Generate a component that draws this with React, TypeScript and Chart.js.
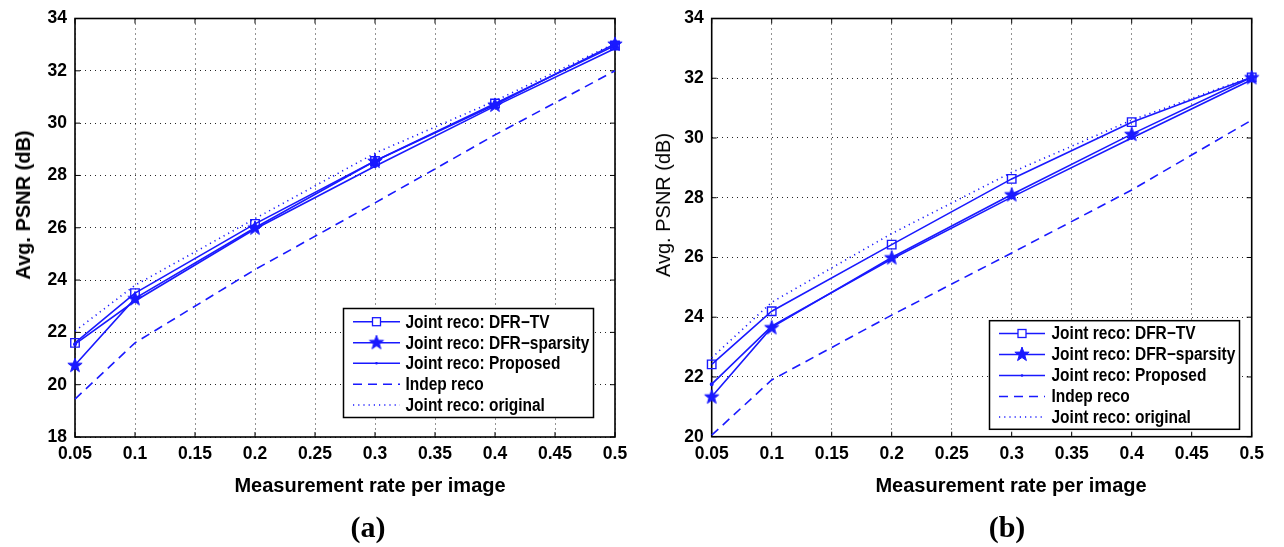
import React, { useEffect, useRef } from 'react';
import { Chart, registerables } from 'chart.js';

Chart.register(...registerables);

// ---------- data ----------
const xRates = [0.05, 0.1, 0.2, 0.3, 0.4, 0.5];
const xTickValues = [0.05, 0.1, 0.15, 0.2, 0.25, 0.3, 0.35, 0.4, 0.45, 0.5];
const yTicksA = [18, 20, 22, 24, 26, 28, 30, 32, 34];
const yTicksB = [20, 22, 24, 26, 28, 30, 32, 34];

const seriesLabels = [
  'Joint reco: DFR\u2212TV',
  'Joint reco: DFR\u2212sparsity',
  'Joint reco: Proposed',
  'Indep reco',
  'Joint reco: original',
];

// panel (a)
const tvA = [21.6, 23.5, 26.15, 28.55, 30.75, 32.97];
const sparsityA = [20.75, 23.3, 26.0, 28.55, 30.7, 33.03];
const proposedA = [21.55, 23.2, 25.95, 28.35, 30.65, 32.85];
const indepA = [19.45, 21.6, 24.4, 26.95, 29.55, 32.0];
const originalA = [22.05, 23.8, 26.35, 28.85, 30.85, 33.05];

// panel (b)
const tvB = [22.42, 24.2, 26.43, 28.63, 30.53, 32.03];
const sparsityB = [21.34, 23.66, 26.0, 28.11, 30.13, 32.03];
const proposedB = [21.76, 23.7, 25.95, 28.02, 30.0, 31.95];
const indepB = [20.05, 21.9, 24.07, 26.15, 28.26, 30.6];
const originalB = [22.64, 24.5, 26.8, 28.85, 30.6, 32.05];

const BLUE = 'rgb(25,25,255)';
const SANS = '"Liberation Sans", Arial, Helvetica, sans-serif';

function makeStar(): HTMLCanvasElement {
  const c = document.createElement('canvas');
  c.width = 18;
  c.height = 18;
  const g = c.getContext('2d')!;
  const R = 7.5;
  const r = R * 0.40;
  g.beginPath();
  for (let i = 0; i < 10; i++) {
    const rad = i % 2 === 0 ? R : r;
    const a = -Math.PI / 2 + (i * Math.PI) / 5;
    const px = 9 + rad * Math.cos(a);
    const py = 9.5 + rad * Math.sin(a);
    if (i === 0) g.moveTo(px, py);
    else g.lineTo(px, py);
  }
  g.closePath();
  g.fillStyle = BLUE;
  g.fill();
  g.strokeStyle = BLUE;
  g.lineWidth = 1;
  g.stroke();
  return c;
}

type PanelCfg = {
  width: number;
  height: number;
  yMin: number;
  yMax: number;
  yTicks: number[];
  series: number[][];
  yAxisWidth: number;
  xAxisHeight: number;
  padTop: number;
  padRight: number;
  legendBox: { x: number; y: number; w: number; h: number; lineX0: number; lineX1: number; textX: number; rows: number[] };
};

function buildChart(canvas: HTMLCanvasElement, cfg: PanelCfg) {
  const star = makeStar();
  const styles = [
    { pointStyle: 'rect', pointRadius: 6, borderDash: [] as number[], borderWidth: 1.6, fill: false },
    { pointStyle: star, pointRadius: 8, borderDash: [] as number[], borderWidth: 1.6, fill: true },
    { pointStyle: 'circle', pointRadius: 1.3, borderDash: [] as number[], borderWidth: 1.6, fill: true },
    { pointStyle: false, pointRadius: 0, borderDash: [9, 6], borderWidth: 1.6, fill: false },
    { pointStyle: false, pointRadius: 0, borderDash: [1.2, 4], borderWidth: 1.6, fill: false },
  ];

  const datasets = cfg.series.map((vals, i) => ({
    label: seriesLabels[i],
    data: xRates.map((x, j) => ({ x, y: vals[j] })),
    borderColor: BLUE,
    backgroundColor: styles[i].fill ? BLUE : 'rgba(0,0,0,0)',
    pointBorderColor: BLUE,
    pointBackgroundColor: styles[i].fill ? BLUE : 'rgba(0,0,0,0)',
    pointBorderWidth: 1.4,
    borderWidth: styles[i].borderWidth,
    borderDash: styles[i].borderDash,
    pointStyle: styles[i].pointStyle as any,
    pointRadius: styles[i].pointRadius,
    tension: 0,
    clip: false as any,
    order: 4 - i,
  }));

  const framePlugin = {
    id: 'frame',
    beforeDatasetsDraw(chart: any) {
      const { ctx, chartArea: a, scales } = chart;
      ctx.save();
      ctx.strokeStyle = '#000';
      ctx.lineWidth = 1.6;
      ctx.setLineDash([]);
      ctx.strokeRect(a.left, a.top, a.right - a.left, a.bottom - a.top);
      ctx.lineWidth = 1;
      const tl = 5;
      xTickValues.forEach((v) => {
        const px = scales.x.getPixelForValue(v);
        ctx.beginPath();
        ctx.moveTo(px, a.bottom);
        ctx.lineTo(px, a.bottom - tl);
        ctx.moveTo(px, a.top);
        ctx.lineTo(px, a.top + tl);
        ctx.stroke();
      });
      cfg.yTicks.forEach((v) => {
        const py = scales.y.getPixelForValue(v);
        ctx.beginPath();
        ctx.moveTo(a.left, py);
        ctx.lineTo(a.left + tl, py);
        ctx.moveTo(a.right, py);
        ctx.lineTo(a.right - tl, py);
        ctx.stroke();
      });
      ctx.restore();
    },
  };

  const legendPlugin = {
    id: 'boxLegend',
    afterDraw(chart: any) {
      const { ctx } = chart;
      const L = cfg.legendBox;
      ctx.save();
      ctx.fillStyle = '#fff';
      ctx.fillRect(L.x, L.y, L.w, L.h);
      ctx.strokeStyle = '#000';
      ctx.lineWidth = 1.5;
      ctx.setLineDash([]);
      ctx.strokeRect(L.x, L.y, L.w, L.h);
      chart.data.datasets.forEach((ds: any, i: number) => {
        const y = L.rows[i];
        ctx.strokeStyle = ds.borderColor;
        ctx.lineWidth = ds.borderWidth;
        ctx.setLineDash(ds.borderDash || []);
        ctx.beginPath();
        ctx.moveTo(L.lineX0, y);
        ctx.lineTo(L.lineX1, y);
        ctx.stroke();
        ctx.setLineDash([]);
        const cx = (L.lineX0 + L.lineX1) / 2;
        if (i === 0) {
          ctx.fillStyle = '#fff';
          ctx.fillRect(cx - 4, y - 4, 8, 8);
          ctx.lineWidth = 1.3;
          ctx.strokeRect(cx - 4, y - 4, 8, 8);
        } else if (i === 1) {
          ctx.drawImage(star, cx - 9, y - 9.5);
        } else if (i === 2) {
          ctx.fillStyle = ds.borderColor;
          ctx.beginPath();
          ctx.arc(cx, y, 1.3, 0, Math.PI * 2);
          ctx.fill();
        }
        ctx.save();
        ctx.fillStyle = '#000';
        ctx.font = `bold 17.5px ${SANS}`;
        ctx.textBaseline = 'middle';
        ctx.textAlign = 'left';
        ctx.translate(L.textX, y + 1);
        ctx.scale(0.885, 1);
        ctx.fillText(ds.label, 0, 0);
        ctx.restore();
      });
      ctx.restore();
    },
  };

  return new Chart(canvas, {
    type: 'line',
    data: { datasets: datasets as any },
    plugins: [framePlugin, legendPlugin],
    options: {
      animation: false,
      responsive: false,
      maintainAspectRatio: false,
      layout: { padding: { left: 0, right: cfg.padRight, top: cfg.padTop, bottom: 0 } },
      plugins: { legend: { display: false }, tooltip: { enabled: false }, title: { display: false } },
      scales: {
        x: {
          type: 'linear',
          min: 0.05,
          max: 0.5,
          afterBuildTicks: (s: any) => {
            s.ticks = xTickValues.map((v) => ({ value: v }));
          },
          afterFit: (s: any) => {
            s.height = cfg.xAxisHeight;
          },
          ticks: {
            autoSkip: false,
            maxRotation: 0,
            color: '#000',
            padding: 7,
            font: { family: SANS, size: 17.5, weight: 'bold' },
            callback: (v: any) => String(Number(v)),
          },
          grid: { color: 'rgba(0,0,0,0.85)', lineWidth: 1, drawTicks: false },
          border: { display: false, dash: [1, 4] },
        },
        y: {
          type: 'linear',
          min: cfg.yMin,
          max: cfg.yMax,
          afterBuildTicks: (s: any) => {
            s.ticks = cfg.yTicks.map((v) => ({ value: v }));
          },
          afterFit: (s: any) => {
            s.width = cfg.yAxisWidth;
          },
          ticks: {
            color: '#000',
            padding: 8,
            font: { family: SANS, size: 17.5, weight: 'bold' },
            callback: (v: any) => String(v),
          },
          grid: { color: 'rgba(0,0,0,0.85)', lineWidth: 1, drawTicks: false },
          border: { display: false, dash: [1, 4] },
        },
      },
    } as any,
  });
}

function Panel(props: { cfg: PanelCfg; left: number }) {
  const ref = useRef<HTMLCanvasElement | null>(null);
  useEffect(() => {
    if (!ref.current) return;
    const chart = buildChart(ref.current, props.cfg);
    return () => chart.destroy();
  }, []);
  return (
    <canvas
      ref={ref}
      width={props.cfg.width}
      height={props.cfg.height}
      style={{ position: 'absolute', left: props.left, top: 0, width: props.cfg.width, height: props.cfg.height }}
    />
  );
}

const cfgA: PanelCfg = {
  width: 640,
  height: 547,
  yMin: 18,
  yMax: 34,
  yTicks: yTicksA,
  series: [tvA, sparsityA, proposedA, indepA, originalA],
  yAxisWidth: 75,
  xAxisHeight: 110,
  padTop: 11.7,
  padRight: 25,
  legendBox: { x: 343.5, y: 308.5, w: 250, h: 109, lineX0: 353, lineX1: 400, textX: 405.5, rows: [321.7, 342.7, 363.3, 384.2, 405] },
};

const cfgB: PanelCfg = {
  width: 644,
  height: 547,
  yMin: 20,
  yMax: 34,
  yTicks: yTicksB,
  series: [tvB, sparsityB, proposedB, indepB, originalB],
  yAxisWidth: 71.7,
  xAxisHeight: 110.3,
  padTop: 12,
  padRight: 32.3,
  legendBox: { x: 349.5, y: 320.7, w: 250, h: 108.6, lineX0: 359, lineX1: 405, textX: 411.5, rows: [333.5, 354.5, 375.5, 396.5, 417] },
};

const textBase: React.CSSProperties = {
  position: 'absolute',
  whiteSpace: 'nowrap',
  color: '#000',
  fontFamily: SANS,
  lineHeight: 1,
};

export default function App() {
  return (
    <div style={{ position: 'fixed', left: 0, top: 0, width: 1284, height: 547, background: '#fff', overflow: 'hidden' }}>
      <Panel cfg={cfgA} left={0} />
      <Panel cfg={cfgB} left={640} />
      <div style={{ ...textBase, left: 23, top: 205, fontSize: 20, fontWeight: 'bold', transform: 'translate(-50%,-50%) rotate(-90deg)' }}>
        Avg. PSNR (dB)
      </div>
      <div style={{ ...textBase, left: 663, top: 205, fontSize: 20, fontWeight: 'normal', transform: 'translate(-50%,-50%) rotate(-90deg)' }}>
        Avg. PSNR (dB)
      </div>
      <div style={{ ...textBase, left: 370, top: 485, fontSize: 20, fontWeight: 'bold', transform: 'translate(-50%,-50%)' }}>
        Measurement rate per image
      </div>
      <div style={{ ...textBase, left: 1011, top: 485, fontSize: 20, fontWeight: 'bold', transform: 'translate(-50%,-50%)' }}>
        Measurement rate per image
      </div>
      <div style={{ ...textBase, left: 368, top: 527, fontSize: 30, fontWeight: 'bold', fontFamily: '"Liberation Serif", "Times New Roman", serif', transform: 'translate(-50%,-50%)' }}>
        (a)
      </div>
      <div style={{ ...textBase, left: 1007, top: 527, fontSize: 30, fontWeight: 'bold', fontFamily: '"Liberation Serif", "Times New Roman", serif', transform: 'translate(-50%,-50%)' }}>
        (b)
      </div>
    </div>
  );
}
